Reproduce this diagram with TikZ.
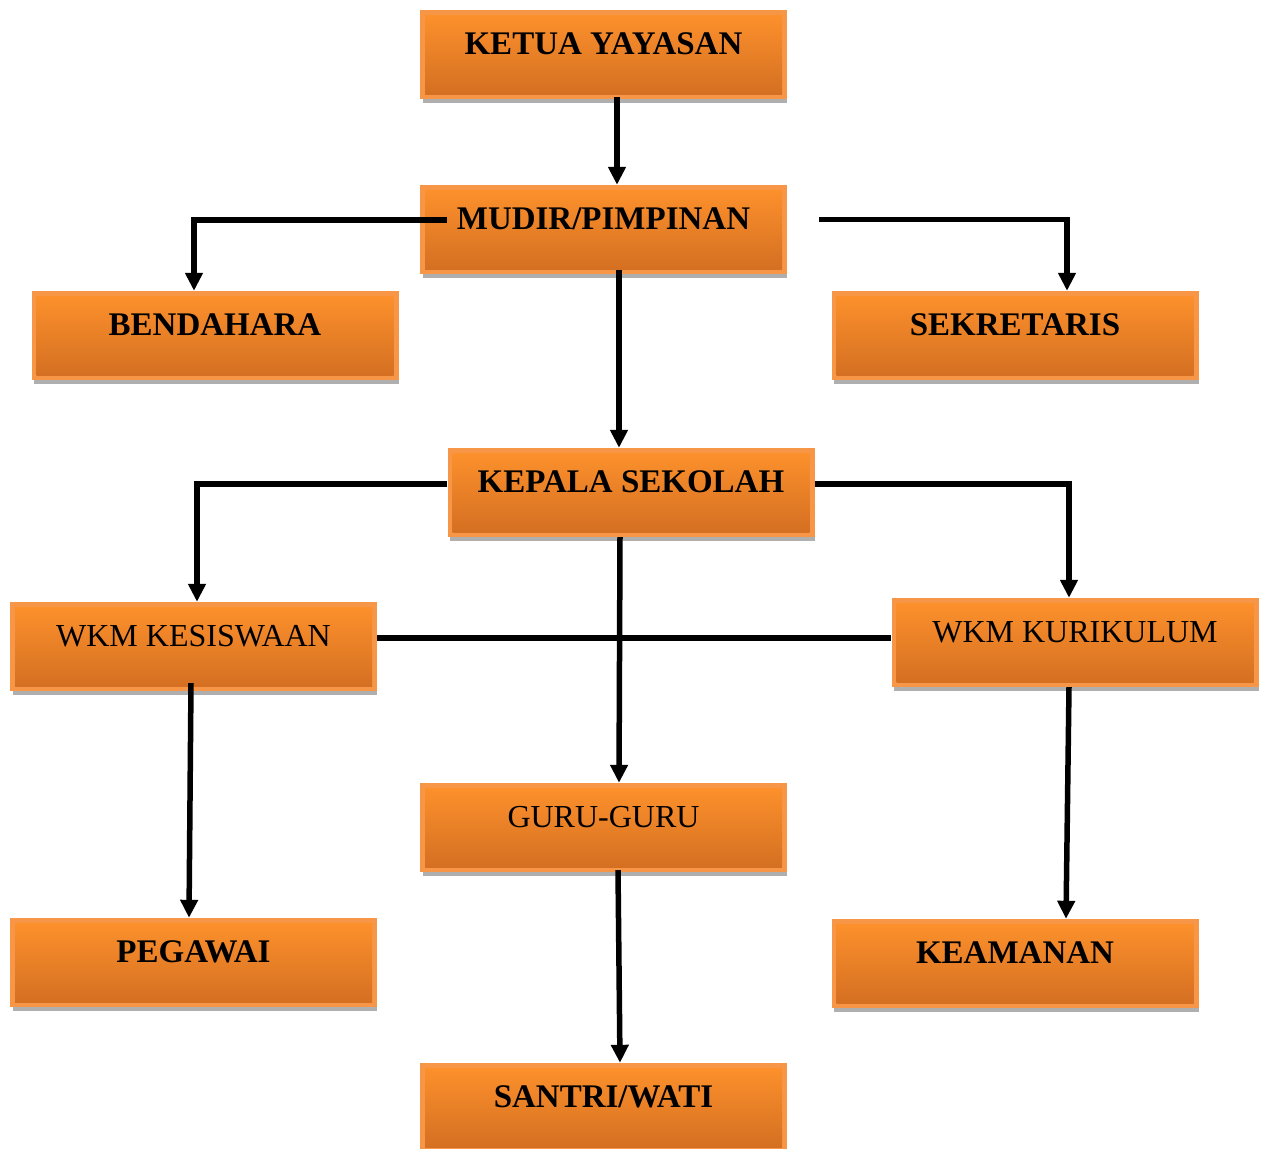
\documentclass[tikz,border=0pt]{standalone}
\usepackage{fontspec}
\setmainfont{Liberation Serif}
\usetikzlibrary{arrows.meta}
\definecolor{outerc}{RGB}{247,150,70}
\definecolor{topc}{RGB}{255,146,44}
\definecolor{botc}{RGB}{210,110,34}
\definecolor{shadc}{RGB}{175,175,175}
\tikzset{
  obox/.style={minimum width=367pt, minimum height=89pt, inner sep=0pt, fill=outerc,
    text height=22pt, text depth=22pt, font=\fontsize{32}{38}\selectfont,
    path picture={\shade[top color=topc,bottom color=botc]
      ([shift={(5pt,-5pt)}]path picture bounding box.north west) rectangle
      ([shift={(-5pt,5pt)}]path picture bounding box.south east);}},
  conn/.style={line width=5.5pt, black},
  arr/.style={conn, -{Triangle[width=17pt,length=18pt]}}
}
\newcommand\orgbox[4]{%
  \fill[shadc] (#2-181,#3-40) rectangle (#2+183.5,#3+48);
  \node[obox] (#1) at (#2,#3) {#4};}
\newcommand\bt[1]{{\fontsize{33}{38}\selectfont\bfseries #1}}
\begin{document}
\begin{tikzpicture}[x=1pt,y=-1pt]
\useasboundingbox (0,0) rectangle (1262,1149);
\orgbox{ketua}{603.5}{54.5}{\bt{KETUA YAYASAN}}
\orgbox{mudir}{603.5}{229.5}{\bt{MUDIR/PIMPINAN}}
\orgbox{bendahara}{215}{335.5}{\bt{BENDAHARA}}
\orgbox{sekretaris}{1015}{335.5}{\bt{SEKRETARIS}}
\orgbox{kepala}{631}{492.5}{\bt{KEPALA SEKOLAH}}
\orgbox{kesiswaan}{193.5}{646.5}{WKM KESISWAAN}
\orgbox{kurikulum}{1075}{642.5}{WKM KURIKULUM}
\orgbox{guru}{603.5}{827.5}{GURU-GURU}
\orgbox{pegawai}{193.5}{962.5}{\bt{PEGAWAI}}
\orgbox{keamanan}{1015}{963.5}{\bt{KEAMANAN}}
\orgbox{santri}{603.5}{1107.5}{\bt{SANTRI/WATI}}
% connectors
\draw[arr] ([shift={(13.5pt,2pt)}]ketua.south) -- ([xshift=13.5pt]mudir.north);
\draw[arr] ([shift={(27pt,9.5pt)}]mudir.west) -| ([xshift=-21pt]bendahara.north);
\draw[arr] ([shift={(32pt,10pt)}]mudir.east) -| ([xshift=52pt]sekretaris.north);
\draw[arr] ([shift={(15.5pt,4pt)}]mudir.south) -- ([xshift=-12pt]kepala.north);
\draw[arr] ([yshift=8.5pt]kepala.west) -| ([xshift=3.5pt]kesiswaan.north);
\draw[arr] ([yshift=8.5pt]kepala.east) -| ([xshift=-6pt]kurikulum.north);
\draw[arr] ([xshift=-11pt]kepala.south) -- ([xshift=15.5pt]guru.north);
\draw[conn] ([yshift=8.5pt]kesiswaan.east) -- ([yshift=4.5pt]kurikulum.west);
\draw[arr] ([shift={(-2.5pt,8pt)}]kesiswaan.south) -- ([xshift=-4.5pt]pegawai.north);
\draw[arr] ([xshift=-6pt]kurikulum.south) -- ([xshift=51pt]keamanan.north);
\draw[arr] ([shift={(14.5pt,2pt)}]guru.south) -- ([xshift=16.5pt]santri.north);
\end{tikzpicture}
\end{document}
